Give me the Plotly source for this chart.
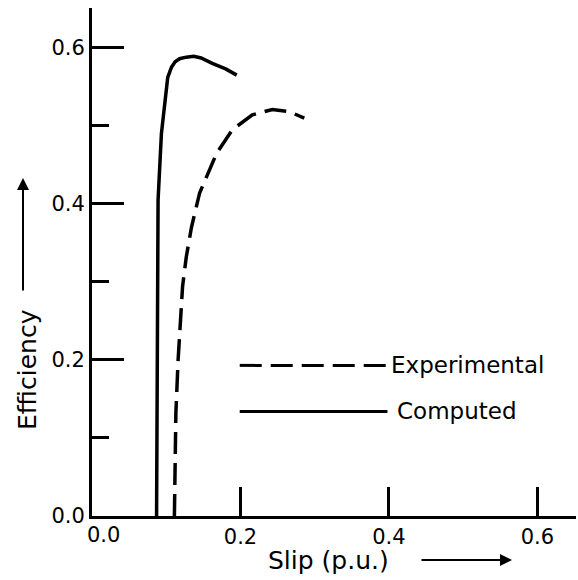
import plotly.graph_objects as go

# ---- data ----
computed_slip = [0.087, 0.088, 0.089, 0.0935, 0.098, 0.102, 0.107, 0.112, 0.118, 0.127, 0.137, 0.147, 0.162, 0.180, 0.195]
computed_eff = [0.0, 0.20, 0.405, 0.490, 0.533, 0.562, 0.575, 0.582, 0.586, 0.588, 0.589, 0.587, 0.580, 0.573, 0.565]

experimental_slip = [0.111, 0.113, 0.116, 0.119, 0.122, 0.127, 0.134, 0.145, 0.155, 0.168, 0.189, 0.216, 0.243, 0.266, 0.286]
experimental_eff = [0.0, 0.132, 0.200, 0.247, 0.294, 0.332, 0.370, 0.414, 0.436, 0.465, 0.495, 0.514, 0.521, 0.518, 0.510]

# legend sample lines (in data units)
legend_exp_x = [0.199, 0.400]
legend_exp_y = [0.193, 0.193]
legend_comp_x = [0.199, 0.398]
legend_comp_y = [0.134, 0.134]

x_tick_vals = [0.2, 0.4, 0.6]
x_tick_text = ["0.2", "0.4", "0.6"]
y_tick_vals = [0.0, 0.2, 0.4, 0.6]
y_tick_text = ["0.0", "0.2", "0.4", "0.6"]

FONT = "DejaVu Sans"
DASH = "22px,9px"

fig = go.Figure()
fig.add_trace(go.Scatter(x=computed_slip, y=computed_eff, mode="lines",
                         line=dict(color="black", width=3.5), showlegend=False))
fig.add_trace(go.Scatter(x=experimental_slip, y=experimental_eff, mode="lines",
                         line=dict(color="black", width=3.5, dash=DASH), showlegend=False))
fig.add_trace(go.Scatter(x=legend_exp_x, y=legend_exp_y, mode="lines",
                         line=dict(color="black", width=3, dash=DASH), showlegend=False))
fig.add_trace(go.Scatter(x=legend_comp_x, y=legend_comp_y, mode="lines",
                         line=dict(color="black", width=3), showlegend=False))

fig.update_layout(
    width=578, height=580,
    margin=dict(l=92, r=2, t=8, b=64),
    paper_bgcolor="white", plot_bgcolor="white",
    font=dict(family=FONT, color="black", size=20),
    xaxis=dict(range=[0, 0.652], showgrid=False, zeroline=False,
               showline=True, linecolor="black", linewidth=3,
               ticks="inside", ticklen=29, tickwidth=3, tickcolor="black",
               tickvals=x_tick_vals, ticktext=x_tick_text,
               tickfont=dict(size=21, family=FONT)),
    yaxis=dict(range=[0, 0.651], showgrid=False, zeroline=False,
               showline=True, linecolor="black", linewidth=3,
               ticks="inside", ticklen=32, tickwidth=3, tickcolor="black",
               tickvals=y_tick_vals, ticktext=y_tick_text,
               tickfont=dict(size=21, family=FONT),
               minor=dict(ticks="inside", ticklen=17, tickwidth=3,
                          tickcolor="black", dtick=0.1, tick0=0)),
)

annotations = [
    dict(text="0.0", x=0.016, y=0, xref="x", yref="y", yanchor="top",
         yshift=-5, showarrow=False, font=dict(size=21, family=FONT)),
    dict(text="Experimental", x=0.400, y=0.193, xref="x", yref="y",
         xanchor="left", showarrow=False, font=dict(size=23, family=FONT)),
    dict(text="Computed", x=0.408, y=0.134, xref="x", yref="y",
         xanchor="left", showarrow=False, font=dict(size=23, family=FONT)),
    dict(text="Slip (p.u.)", x=(266 - 92) / 484, y=(516 - 560) / 508,
         xref="paper", yref="paper", xanchor="left", yanchor="middle",
         showarrow=False, font=dict(size=25, family=FONT)),
    dict(text="", x=(512 - 92) / 484, y=(516 - 560) / 508, xref="paper", yref="paper",
         showarrow=True, ax=-92, ay=0, arrowhead=2, arrowsize=1.2, arrowwidth=2,
         arrowcolor="black"),
    dict(text="Efficiency", x=(27 - 92) / 484, y=(516 - 370) / 508,
         xref="paper", yref="paper", textangle=-90, xanchor="center", yanchor="middle",
         showarrow=False, font=dict(size=25, family=FONT)),
    dict(text="", x=(23 - 92) / 484, y=(516 - 178) / 508, xref="paper", yref="paper",
         showarrow=True, ax=0, ay=114, arrowhead=2, arrowsize=1.2, arrowwidth=2,
         arrowcolor="black"),
]
fig.update_layout(annotations=annotations)

fig.write_html("out.html")
